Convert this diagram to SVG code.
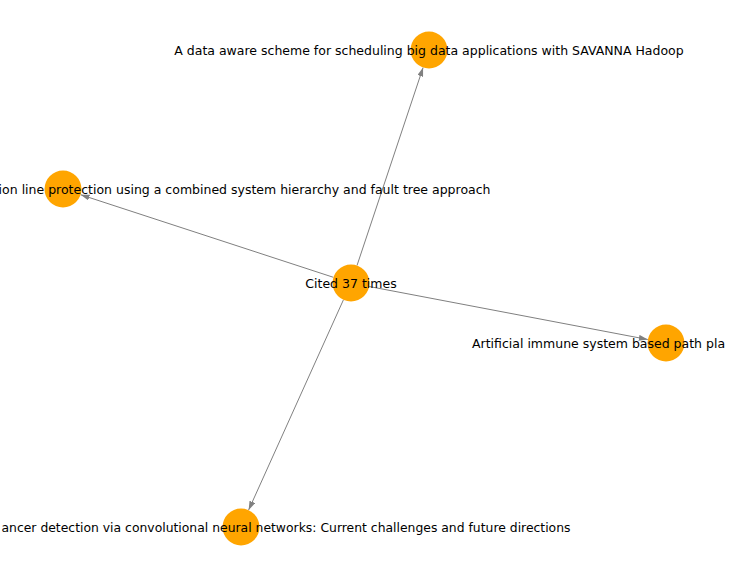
<svg xmlns="http://www.w3.org/2000/svg" width="729" height="577" viewBox="0 0 729 577">
<style>
.edge{stroke:#808080;stroke-width:1;fill:none;marker-end:url(#arr)}
.node circle{fill:#ffa500}
.node text{font-family:"DejaVu Sans",sans-serif;font-size:12.5px;fill:#000;text-anchor:middle}
.node text.e{text-anchor:end}
.node text.s{text-anchor:start}
</style>
<defs>
<marker id="arr" viewBox="0 0 9 6" refX="9" refY="3" markerWidth="9" markerHeight="6" markerUnits="userSpaceOnUse" orient="auto">
<path d="M0,0 L9,3 L0,6 z" fill="#808080"/>
</marker>
</defs>
<rect width="729" height="577" fill="#fff"/>
<g id="edges">
<line class="edge" x1="357" y1="265.5" x2="423.1" y2="67.5"/>
<line class="edge" x1="333.4" y1="277.3" x2="80.6" y2="194.7"/>
<line class="edge" x1="369.2" y1="286.5" x2="647.8" y2="339.5"/>
<line class="edge" x1="343.4" y1="299.9" x2="248.6" y2="510.1"/>
</g>
<g id="n_center" class="node"><circle cx="351" cy="283" r="18.5"/><text x="351" y="287.5">Cited 37 times</text></g>
<g id="n_top" class="node"><circle cx="429" cy="50" r="18.5"/><text x="429" y="54.5">A data aware scheme for scheduling big data applications with SAVANNA Hadoop</text></g>
<g id="n_left" class="node"><circle cx="63" cy="189" r="18.5"/><text class="e" x="490.5" y="193.5">ion line protection using a combined system hierarchy and fault tree approach</text></g>
<g id="n_right" class="node"><circle cx="666" cy="343" r="18.5"/><text class="s" x="472" y="347.5">Artificial immune system based path pla</text></g>
<g id="n_bottom" class="node"><circle cx="241" cy="527" r="18.5"/><text class="s" x="1.5" y="531.5" textLength="569" lengthAdjust="spacingAndGlyphs">ancer detection via convolutional neural networks: Current challenges and future directions</text></g>
</svg>
